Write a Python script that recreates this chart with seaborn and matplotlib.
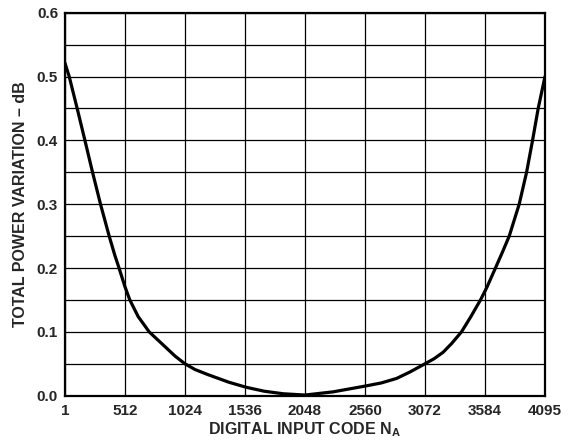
import matplotlib
matplotlib.use("Agg")
import matplotlib.pyplot as plt
import seaborn as sns
import pandas as pd
from matplotlib.ticker import MultipleLocator, FixedLocator, FormatStrFormatter

# values
codes = [1, 37, 105, 171, 236, 304, 378, 426, 462, 512, 554, 625, 719, 853,
         940, 1024, 1110, 1220, 1400, 1550, 1700, 1863, 2048, 2288, 2560, 2700,
         2829, 2942, 3072, 3150, 3226, 3300, 3383, 3460, 3545, 3600, 3670, 3730,
         3790, 3875, 3938, 3989, 4037, 4095]
variation = [0.521, 0.500, 0.450, 0.400, 0.350, 0.300, 0.250, 0.220, 0.200, 0.171,
             0.150, 0.124, 0.100, 0.077, 0.062, 0.050, 0.041, 0.033, 0.021, 0.013,
             0.007, 0.003, 0.001, 0.006, 0.015, 0.020, 0.027, 0.037, 0.050, 0.058,
             0.068, 0.082, 0.100, 0.123, 0.150, 0.170, 0.199, 0.224, 0.250, 0.300,
             0.350, 0.400, 0.450, 0.500]
x_ticks = [1, 512, 1024, 1536, 2048, 2560, 3072, 3584, 4095]

df = pd.DataFrame({"code": codes, "tpv": variation})

sns.set_theme(style="white")
plt.rcParams["font.family"] = ["Liberation Sans", "DejaVu Sans"]
plt.rcParams["mathtext.fontset"] = "custom"
plt.rcParams["mathtext.bf"] = "Liberation Sans:bold"
plt.rcParams["mathtext.rm"] = "Liberation Sans:bold"

fig, ax = plt.subplots(figsize=(5.69, 4.42), dpi=100)
fig.subplots_adjust(left=0.1142, right=0.9578, top=0.9713, bottom=0.1048)

sns.lineplot(data=df, x="code", y="tpv", color="black", linewidth=2.3, ax=ax)
ax.lines[0].set_solid_joinstyle("round")

ax.set_xlim(1, 4095)
ax.set_ylim(0, 0.6)
ax.xaxis.set_major_locator(FixedLocator(x_ticks))
ax.set_xticklabels([str(t) for t in x_ticks])
ax.yaxis.set_major_locator(MultipleLocator(0.1))
ax.yaxis.set_minor_locator(MultipleLocator(0.05))
ax.yaxis.set_major_formatter(FormatStrFormatter("%.1f"))

ax.grid(True, which="both", axis="y", color="black", linewidth=0.9)
ax.grid(True, which="major", axis="x", color="black", linewidth=0.9)
ax.tick_params(which="both", length=0, labelsize=11)
ax.tick_params(axis="x", pad=6)
ax.tick_params(axis="y", pad=5)
for lab in ax.get_xticklabels() + ax.get_yticklabels():
    lab.set_fontweight("bold")

for sp in ax.spines.values():
    sp.set_color("black")
    sp.set_linewidth(1.6)

ax.set_xlabel(r"DIGITAL INPUT CODE N$_{\mathbf{A}}$", fontsize=11.5, fontweight="bold", labelpad=2)
ax.set_ylabel("TOTAL POWER VARIATION – dB", fontsize=11.5, fontweight="bold", labelpad=6)

plt.savefig("out.png", dpi=100)
plt.close()
